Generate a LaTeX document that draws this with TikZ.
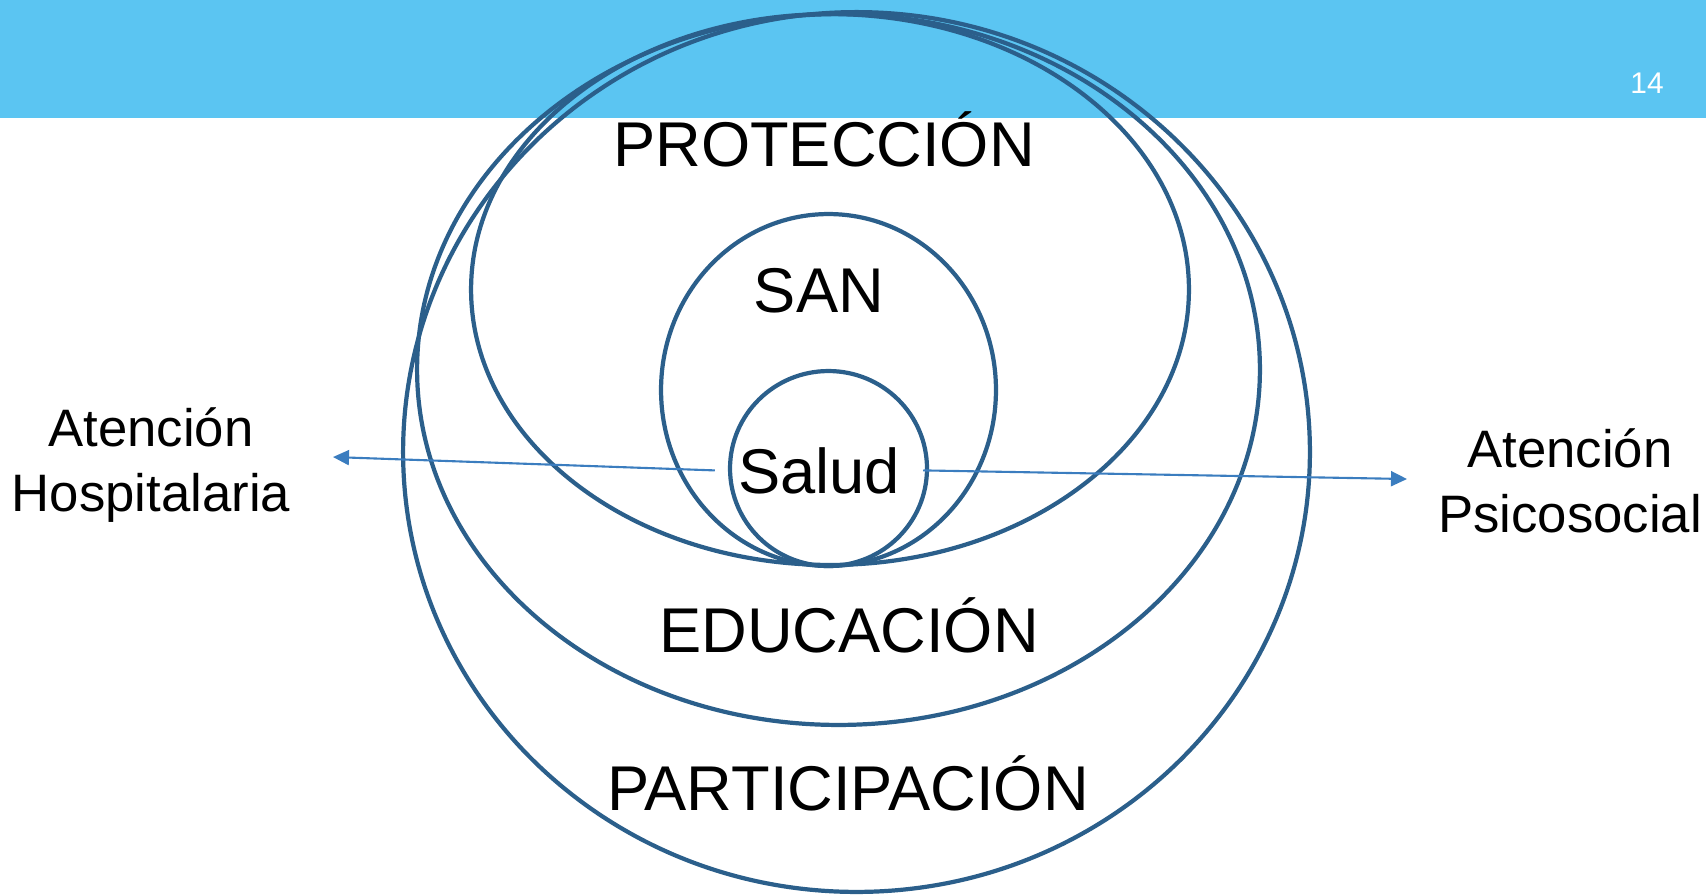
\documentclass[tikz,border=0pt]{standalone}
\usepackage{fontspec}
\setmainfont{Liberation Sans}
\usepackage{tikz}
\usetikzlibrary{positioning, shapes.geometric, arrows.meta}

\definecolor{barblue}{HTML}{5BC5F2}
\definecolor{ringblue}{HTML}{2B5F8B}
\definecolor{arrowblue}{HTML}{3B7DBF}

\begin{document}
\begin{tikzpicture}[x=0.02cm, y=-0.02cm,
ringnode/.style={ellipse, draw=ringblue, line width=2.4pt, inner sep=0pt},
bigtext/.style={font=\fontsize{36}{43}\selectfont, inner sep=0pt, anchor=base},
sidetext/.style={font=\fontsize{30}{37}\selectfont, align=center, inner sep=0pt},
linkarrow/.style={draw=arrowblue, line width=1.2pt, -{Triangle[length=0.32cm, width=0.3cm]}},
]
\useasboundingbox (0,0) rectangle (1706,894);
\fill[barblue] (0,0) rectangle (1706,118);
\node[text=white, font=\fontsize{17}{20}\selectfont, inner sep=0pt, anchor=base] (page) at (1647,93) {14};

%Nodes
\node[ringnode, minimum width=18.14cm, minimum height=17.6cm]  (ringPart)  at (856.5,452)   {};
\node[ringnode, minimum width=16.86cm, minimum height=14.22cm] (ringEdu)   at (838.5,369.5) {};
\node[ringnode, minimum width=14.36cm, minimum height=11.02cm] (ringProt)  at (830,289.5)   {};
\node[ringnode, minimum width=6.7cm,   minimum height=7.04cm]  (ringSan)   at (828.5,390)   {};
\node[ringnode, minimum width=3.94cm,  minimum height=3.9cm]   (ringSalud) at (828.5,468.5) {};

\node[bigtext] (Prot)  at (824,166.5) {PROTECCIÓN};
\node[bigtext] (San)   at (819,312)   {SAN};
\node[bigtext, inner xsep=0.46cm] (Salud) at (819,493) {Salud};
\node[bigtext] (Edu)   at (849,652)   {EDUCACIÓN};
\node[bigtext] (Part)  at (848,810.5) {PARTICIPACIÓN};

\node[sidetext] (Hosp)   at (151,465) {Atención\\Hospitalaria};
\node[sidetext] (Psico)  at (1570,481) {Atención\\Psicosocial};
\coordinate (hospTip)  at (333,457);
\coordinate (psicoTip) at (1407,479);

%Lines
\draw[linkarrow] (Salud.west) -- (hospTip);
\draw[linkarrow] (Salud.east) -- (psicoTip);
\end{tikzpicture}
\end{document}
